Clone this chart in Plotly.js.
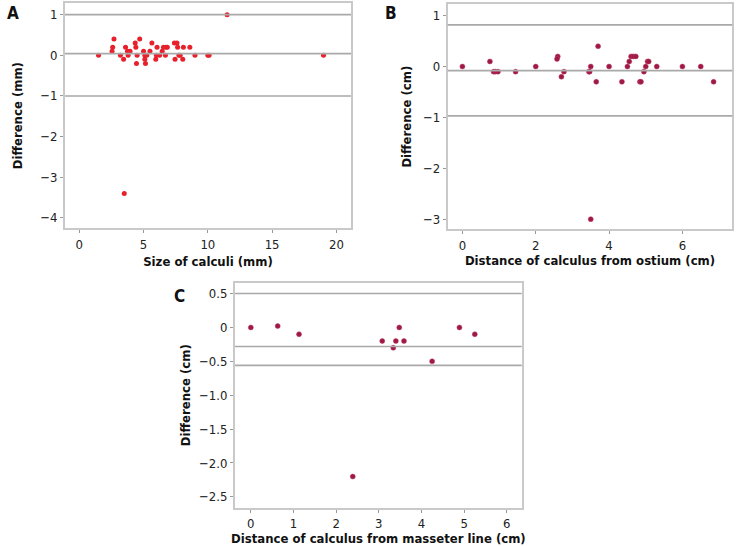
<!DOCTYPE html>
<html>
<head>
<meta charset="utf-8">
<script src="https://cdn.plot.ly/plotly-3.0.1.min.js"></script>
<style>
html,body{margin:0;padding:0;background:#fff;}
#chart{width:737px;height:546px;}
#chart text{font-stretch:condensed !important;}
</style>
</head>
<body>
<div id="chart"></div>
<script>
// Panel A: size of calculi (mm) vs difference (mm)
const aSize = [1.5,2.7,2.6,2.55,3.2,3.45,3.6,3.75,3.8,3.95,4.35,4.4,4.45,4.5,4.7,5.0,5.1,5.1,5.15,5.25,5.5,5.65,5.95,6.05,6.0,6.25,6.45,6.55,6.75,6.7,6.85,7.4,7.6,7.65,7.45,7.75,7.85,8.1,8.05,8.6,9.0,10.0,10.1,11.5,19.0,3.5];
const aDiff = [0,0.4,0.2,0.1,0,-0.1,0.2,0.1,0,0.1,0.3,0.2,-0.2,0,0.4,0.1,0,-0.1,-0.2,0,0.1,0.3,-0.1,0.2,0,0,0.1,0.2,0.2,0,0.2,0.3,0.3,0.2,-0.1,0,0,0.2,-0.1,0.2,0,0,0,1.0,0,-3.4];
const aLines = [1.0, 0.04, -1.0];

// Panel B: distance from ostium (cm) vs difference (cm)
const bDist = [0.0,0.75,0.85,0.9,0.97,1.45,2.0,2.6,2.58,2.7,2.77,3.45,3.47,3.5,3.65,3.7,4.0,4.35,4.5,4.55,4.6,4.66,4.73,4.84,4.87,4.95,5.0,5.05,5.08,5.3,6.0,6.5,6.85,3.5];
const bDiff = [0,0.1,-0.1,-0.1,-0.1,-0.1,0,0.2,0.15,-0.2,-0.1,-0.1,-0.1,0,-0.3,0.4,0,-0.3,0,0.1,0.2,0.2,0.2,-0.3,-0.3,-0.1,0,0.1,0.1,0,0,0,-0.3,-3.0];
const bLines = [0.82, -0.08, -0.97];

// Panel C: distance from masseter line (cm) vs difference (cm)
const cDist = [0.0,0.63,1.13,3.08,3.34,3.4,3.48,3.59,4.25,4.89,5.25,2.39];
const cDiff = [0,0.02,-0.1,-0.2,-0.3,-0.2,0,-0.2,-0.5,0,-0.1,-2.2];
const cLines = [0.5, -0.28, -0.56];
const cTickVals = [0.5,0,-0.5,-1.0,-1.5,-2.0,-2.5];
const cTickText = ['0.5','0','\u22120.5','\u22121.0','\u22121.5','\u22122.0','\u22122.5'];

const FONT = '"DejaVu Sans Condensed", "DejaVu Sans", sans-serif';
const tickFont = {family: FONT, size: 13, color: '#222'};
const titleFont = {family: FONT, size: 13, color: '#111', weight: 'bold'};
const axisBase = {
  showgrid: false, zeroline: false, showline: true, mirror: true,
  linecolor: '#c9c9c9', linewidth: 2, ticks: 'outside', ticklen: 3,
  tickcolor: '#999', tickwidth: 1, tickfont: tickFont
};

const traces = [
  {x: aSize, y: aDiff, xaxis: 'x', yaxis: 'y', mode: 'markers', type: 'scatter',
   marker: {size: 5, color: '#e8202c'}},
  {x: bDist, y: bDiff, xaxis: 'x2', yaxis: 'y2', mode: 'markers', type: 'scatter',
   marker: {size: 5, color: '#9c1a45', line: {color: '#c23a60', width: 0.5}}},
  {x: cDist, y: cDiff, xaxis: 'x3', yaxis: 'y3', mode: 'markers', type: 'scatter',
   marker: {size: 5, color: '#9c1a45', line: {color: '#c23a60', width: 0.5}}}
];

function hlines(vals, xr, yr) {
  return vals.map(v => ({type: 'line', xref: xr + ' domain', yref: yr, x0: 0, x1: 1, y0: v, y1: v,
    line: {color: '#a9a9a9', width: 1.6}}));
}

const layout = {
  width: 737, height: 546,
  margin: {l: 0, r: 0, t: 0, b: 0},
  paper_bgcolor: '#fff', plot_bgcolor: '#fff',
  showlegend: false,
  xaxis: Object.assign({}, axisBase, {domain: [0.0882, 0.4763], anchor: 'y', range: [-1.11, 21.14],
    tickvals: [0,5,10,15,20], title: {text: 'Size of calculi (mm)', font: titleFont, standoff: 6}}),
  yaxis: Object.assign({}, axisBase, {domain: [0.5824, 0.994], anchor: 'x', range: [-4.25, 1.28],
    tickvals: [1,0,-1,-2,-3,-4], title: {text: 'Difference (mm)', font: titleFont, standoff: 15}}),
  xaxis2: Object.assign({}, axisBase, {domain: [0.6075, 0.9936], anchor: 'y2', range: [-0.4, 7.36],
    tickvals: [0,2,4,6], title: {text: 'Distance of calculus from ostium (cm)', font: titleFont, standoff: 4}}),
  yaxis2: Object.assign({}, axisBase, {domain: [0.58, 0.9927], anchor: 'x2', range: [-3.2, 1.23],
    tickvals: [1,0,-1,-2,-3], title: {text: 'Difference (cm)', font: titleFont, standoff: 8}}),
  xaxis3: Object.assign({}, axisBase, {domain: [0.3189, 0.7079], anchor: 'y3', range: [-0.37, 6.35],
    tickvals: [0,1,2,3,4,5,6], title: {text: 'Distance of calculus from masseter line (cm)', font: titleFont, standoff: 4}}),
  yaxis3: Object.assign({}, axisBase, {domain: [0.0701, 0.4822], anchor: 'x3', range: [-2.66, 0.66],
    tickvals: cTickVals, ticktext: cTickText, title: {text: 'Difference (cm)', font: titleFont, standoff: 5}}),
  shapes: [].concat(hlines(aLines, 'x', 'y'), hlines(bLines, 'x2', 'y2'), hlines(cLines, 'x3', 'y3')),
  annotations: [
    {text: 'A', x: 5/737, y: 1 - 13/546, xref: 'paper', yref: 'paper', showarrow: false, xanchor: 'left', yanchor: 'middle',
     font: {family: FONT, size: 17, color: '#111', weight: 'bold'}},
    {text: 'B', x: 383/737, y: 1 - 13/546, xref: 'paper', yref: 'paper', showarrow: false, xanchor: 'left', yanchor: 'middle',
     font: {family: FONT, size: 17, color: '#111', weight: 'bold'}},
    {text: 'C', x: 172/737, y: 1 - 296/546, xref: 'paper', yref: 'paper', showarrow: false, xanchor: 'left', yanchor: 'middle',
     font: {family: FONT, size: 17, color: '#111', weight: 'bold'}}
  ]
};

Plotly.newPlot('chart', traces, layout, {displayModeBar: false, staticPlot: true});
</script>
</body>
</html>
